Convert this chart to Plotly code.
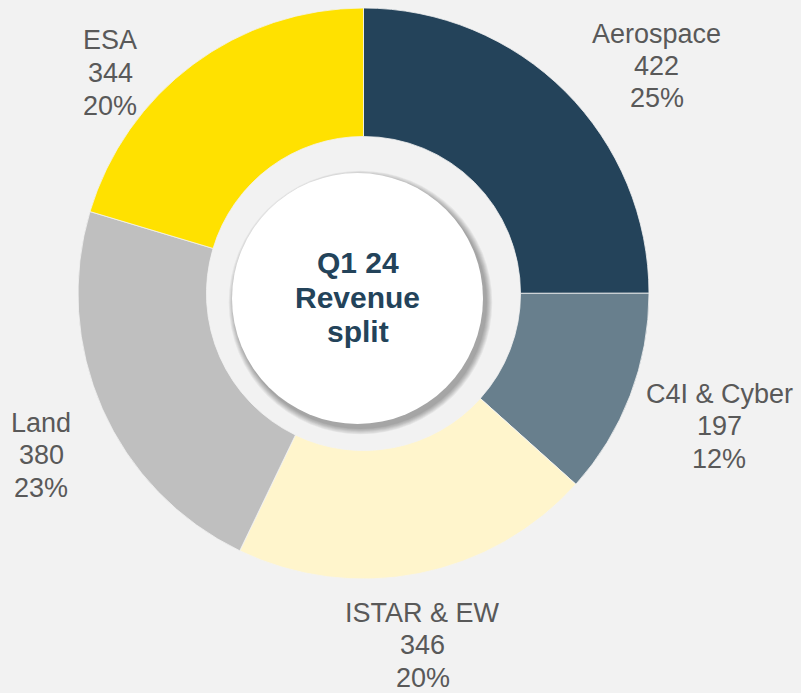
import plotly.graph_objects as go

# ---------------- data ----------------
segments = ["Aerospace", "C4I & Cyber", "ISTAR & EW", "Land", "ESA"]
revenue = [422, 197, 346, 380, 344]
share_pct = [25, 12, 20, 23, 20]
colors = ["#24435A", "#687F8D", "#FFF5CC", "#BFBFBF", "#FFE100"]
center_lines = ["Q1 24", "Revenue", "split"]

# ---------------- layout constants ----------------
W, H = 801, 693
BG = "#F2F2F2"
FONT = "Liberation Sans, Arial, sans-serif"
LABEL_COLOR = "#595959"
TITLE_COLOR = "#23435A"


def px(x):
    return x / W


def py(y):
    return 1 - y / H


cx, cy, R = 363.5, 293.5, 285.5
hole = 0.55

# label anchor points (pixel centre of middle line) for each segment
label_pos = [(656.5, 66), (719, 426), (423, 645), (41, 455), (110, 73)]
line_gap = 32.5

fig = go.Figure(
    go.Pie(
        values=revenue,
        labels=segments,
        sort=False,
        direction="clockwise",
        rotation=0,
        hole=hole,
        marker=dict(colors=colors, line=dict(color=BG, width=0.8)),
        textinfo="none",
        hoverinfo="label+value+percent",
        showlegend=False,
        domain=dict(x=[px(cx - R), px(cx + R)], y=[py(cy + R), py(cy - R)]),
    )
)

# white centre disc with soft shadow
wcx, wcy, wr = 357.5, 298.5, 125.5
shapes = []
for i in range(7):
    rr = wr + (7 - i) * 0.9
    ox, oy = 3, 4
    shapes.append(dict(
        type="circle", xref="paper", yref="paper", layer="above",
        x0=px(wcx + ox - rr), x1=px(wcx + ox + rr),
        y0=py(wcy + oy + rr), y1=py(wcy + oy - rr),
        fillcolor="rgba(0,0,0,0.05)", line=dict(width=0),
    ))
shapes.append(dict(
    type="circle", xref="paper", yref="paper", layer="above",
    x0=px(wcx - wr), x1=px(wcx + wr), y0=py(wcy + wr), y1=py(wcy - wr),
    fillcolor="#FFFFFF", line=dict(width=0),
))

annotations = []
for name, val, pct, (lx, ly) in zip(segments, revenue, share_pct, label_pos):
    for k, txt in enumerate([name, str(val), f"{pct}%"]):
        annotations.append(dict(
            x=px(lx), y=py(ly + (k - 1) * line_gap), xref="paper", yref="paper",
            text=txt, showarrow=False, xanchor="center", yanchor="middle",
            font=dict(family=FONT, size=27, color=LABEL_COLOR),
        ))

for k, txt in enumerate(center_lines):
    annotations.append(dict(
        x=px(wcx), y=py(297 + (k - 1) * 34.5), xref="paper", yref="paper",
        text=f"<b>{txt}</b>", showarrow=False, xanchor="center", yanchor="middle",
        font=dict(family=FONT, size=30, color=TITLE_COLOR),
    ))

fig.update_layout(
    width=W, height=H,
    margin=dict(l=0, r=0, t=0, b=0),
    paper_bgcolor=BG, plot_bgcolor=BG,
    shapes=shapes, annotations=annotations,
    showlegend=False,
)

fig.write_html(
    "out.html",
    config={"displayModeBar": False},
    post_script="document.body.style.margin='0';document.body.style.background='#F2F2F2';document.body.style.overflow='hidden';",
)
